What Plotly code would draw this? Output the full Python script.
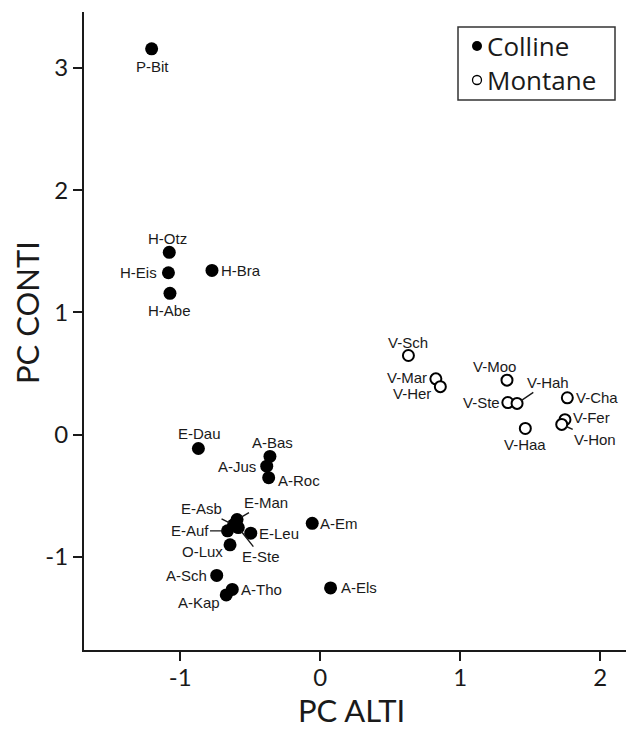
import plotly.graph_objects as go

# ---- data ----
colline_names = ["P-Bit", "H-Otz", "H-Eis", "H-Abe", "H-Bra", "E-Dau", "A-Bas", "A-Jus",
                 "A-Roc", "E-Man", "E-Asb", "E-Auf", "E-Ste", "E-Leu", "O-Lux", "A-Em",
                 "A-Sch", "A-Tho", "A-Kap", "A-Els"]
colline_x = [-1.204, -1.078, -1.084, -1.073, -0.773, -0.870, -0.359, -0.382,
             -0.368, -0.594, -0.619, -0.662, -0.585, -0.496, -0.644, -0.057,
             -0.739, -0.628, -0.671, 0.074]
colline_y = [3.158, 1.492, 1.325, 1.157, 1.344, -0.113, -0.178, -0.258,
             -0.352, -0.695, -0.738, -0.787, -0.760, -0.806, -0.901, -0.725,
             -1.152, -1.266, -1.311, -1.254]

montane_names = ["V-Sch", "V-Mar", "V-Her", "V-Moo", "V-Ste", "V-Hah", "V-Cha", "V-Fer",
                 "V-Hon", "V-Haa"]
montane_x = [0.630, 0.826, 0.858, 1.334, 1.340, 1.406, 1.765, 1.748, 1.725, 1.465]
montane_y = [0.648, 0.457, 0.393, 0.446, 0.263, 0.256, 0.302, 0.123, 0.084, 0.051]

x_tickvals = [-1, 0, 1, 2]
x_ticktext = ["-1", "0", "1", "2"]
y_tickvals = [-1, 0, 1, 2, 3]
y_ticktext = ["-1", "0", "1", "2", "3"]

legend_labels = ["Colline", "Montane"]
x_title = "PC ALTI"
y_title = "PC CONTI"

# ---- label placement (style): name -> (mode, dx, dy, xanchor) ; dy in screen px (down +)
label_pos = {
    "P-Bit": ("txt", 1, 18, "center"),
    "H-Otz": ("txt", -2, -14, "center"),
    "H-Eis": ("txt", -9, 0, "right"),
    "H-Abe": ("txt", 0, 17, "center"),
    "H-Bra": ("txt", 7, 0, "left"),
    "E-Dau": ("txt", 1, -15, "center"),
    "A-Bas": ("txt", 3, -14, "center"),
    "A-Jus": ("txt", -9, 0, "right"),
    "A-Roc": ("txt", 7, 3, "left"),
    "E-Man": ("arrow", 29, -17, "center"),
    "E-Asb": ("arrow", -32, -16, "center"),
    "E-Auf": ("arrow", -38, 0, "center"),
    "E-Ste": ("arrow", 23, 29, "center"),
    "E-Leu": ("txt", 6, 0, "left"),
    "O-Lux": ("txt", -5, 7, "right"),
    "A-Em": ("txt", 6, 0, "left"),
    "A-Sch": ("txt", -8, 0, "right"),
    "A-Tho": ("txt", 7, 0, "left"),
    "A-Kap": ("txt", -4, 8, "right"),
    "A-Els": ("txt", 8, 0, "left"),
    "V-Sch": ("txt", 0, -13, "center"),
    "V-Mar": ("txt", -7, -1, "right"),
    "V-Her": ("txt", -7, 7, "right"),
    "V-Moo": ("txt", -12, -14, "center"),
    "V-Ste": ("txt", -6, 0, "right"),
    "V-Hah": ("arrow", 31, -21, "center"),
    "V-Cha": ("txt", 7, 0, "left"),
    "V-Fer": ("txt", 6, -2, "left"),
    "V-Hon": ("arrow", 33, 15, "center"),
    "V-Haa": ("txt", 0, 16, "center"),
}

LABEL_FONT = dict(family="Liberation Sans, Arial, sans-serif", size=15, color="#1a1a1a")
BIG_FONT = "Lato, Open Sans, sans-serif"
LEG_FONT = "Open Sans, sans-serif"

PLOT_L, PLOT_R, PLOT_T, PLOT_B = 84, 626, 12, 650   # plot area in page px

fig = go.Figure()
fig.add_trace(go.Scatter(x=colline_x, y=colline_y, mode="markers", name=legend_labels[0],
                         marker=dict(size=13, color="black", line=dict(width=0)),
                         showlegend=False, cliponaxis=False, hoverinfo="skip"))
fig.add_trace(go.Scatter(x=montane_x, y=montane_y, mode="markers", name=legend_labels[1],
                         marker=dict(size=11, color="white", line=dict(width=2, color="black")),
                         showlegend=False, cliponaxis=False, hoverinfo="skip"))

annotations = []
for names, xs, ys in [(colline_names, colline_x, colline_y), (montane_names, montane_x, montane_y)]:
    for n, xv, yv in zip(names, xs, ys):
        mode, dx, dy, xa = label_pos[n]
        if mode == "txt":
            annotations.append(dict(x=xv, y=yv, xref="x", yref="y", text=n, showarrow=False,
                                    xanchor=xa, yanchor="middle", xshift=dx, yshift=-dy,
                                    font=LABEL_FONT))
        else:
            annotations.append(dict(x=xv, y=yv, xref="x", yref="y", text=n, showarrow=True,
                                    ax=dx, ay=dy, arrowhead=0, arrowwidth=1.4,
                                    arrowcolor="#1a1a1a", standoff=5, font=LABEL_FONT))

PW, PH = float(PLOT_R - PLOT_L), float(PLOT_B - PLOT_T)
def px2paper(px, py):
    return (px - PLOT_L) / PW, (PLOT_B - py) / PH

# axis titles
tx, ty = px2paper(351, 730)
annotations.append(dict(x=tx, y=ty, xref="paper", yref="paper", text=x_title,
                        showarrow=False, xanchor="center", yanchor="bottom", borderpad=0,
                        font=dict(family=BIG_FONT, size=31, color="#1a1a1a")))
tx, ty = px2paper(27, 313)
annotations.append(dict(x=tx, y=ty, xref="paper", yref="paper", text=y_title,
                        showarrow=False, xanchor="center", yanchor="middle", textangle=-90,
                        font=dict(family=BIG_FONT, size=31, color="#1a1a1a")))

# legend (manual)
lx0, ly0 = px2paper(458, 27)
lx1, ly1 = px2paper(615, 100)
shapes = [dict(type="rect", xref="paper", yref="paper", x0=lx0, x1=lx1, y0=ly1, y1=ly0,
               line=dict(color="#333333", width=1.5), fillcolor="white")]
for i, (lab, py) in enumerate(zip(legend_labels, [46, 80])):
    mx, my = px2paper(477, py)
    if i == 0:
        shapes.append(dict(type="circle", xref="paper", yref="paper", xsizemode="pixel",
                           ysizemode="pixel", xanchor=mx, yanchor=my, x0=-5, x1=5, y0=-5, y1=5,
                           fillcolor="black", line=dict(color="black", width=0)))
    else:
        shapes.append(dict(type="circle", xref="paper", yref="paper", xsizemode="pixel",
                           ysizemode="pixel", xanchor=mx, yanchor=my, x0=-4.5, x1=4.5, y0=-4.5, y1=4.5,
                           fillcolor="white", line=dict(color="black", width=1.3)))
    tx, ty = px2paper(486, py)
    annotations.append(dict(x=tx, y=ty, xref="paper", yref="paper", text=lab, showarrow=False,
                            xanchor="left", yanchor="middle", borderpad=0,
                            font=dict(family=LEG_FONT, size=26, color="#1a1a1a")))

axis_common = dict(showgrid=False, zeroline=False, showline=True, linecolor="#1a1a1a",
                   linewidth=2, ticks="outside", ticklen=9, tickwidth=2, tickcolor="#1a1a1a",
                   tickfont=dict(family=BIG_FONT, size=24, color="#1a1a1a"))

fig.update_layout(
    width=626, height=730,
    margin=dict(l=PLOT_L, r=626 - PLOT_R, t=PLOT_T, b=730 - PLOT_B),
    paper_bgcolor="white", plot_bgcolor="white",
    xaxis=dict(range=[-1.687, 2.184], tickvals=x_tickvals, ticktext=x_ticktext,
               ticklabelstandoff=-4, **axis_common),
    yaxis=dict(range=[-1.762, 3.459], tickvals=y_tickvals, ticktext=y_ticktext, **axis_common),
    annotations=annotations,
    shapes=shapes,
    showlegend=False,
    hovermode=False,
)

fig.write_html("out.html", config={"displayModeBar": False},
               post_script="document.body.style.margin='0';document.body.style.overflow='hidden';")
